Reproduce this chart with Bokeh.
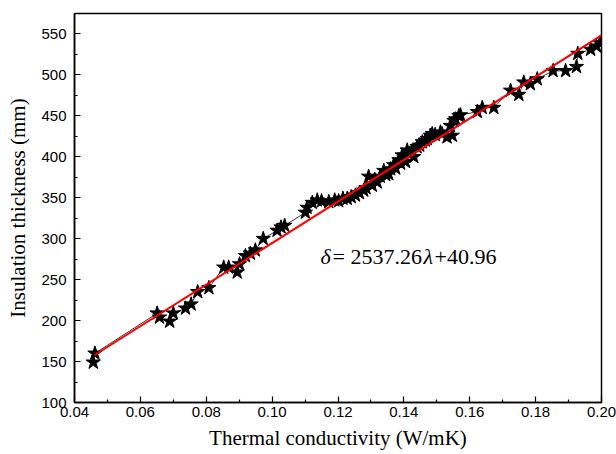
from bokeh.plotting import figure
from bokeh.models import Range1d, Label, FixedTicker, NumeralTickFormatter
from bokeh.embed import file_html
from bokeh.resources import INLINE

# ---- data ----
conductivity = [0.0457, 0.0462, 0.0651, 0.0658, 0.0689, 0.0700, 0.0737, 0.0754, 0.0774, 0.0808,
                0.0853, 0.0868, 0.0894, 0.0901, 0.0919, 0.0934, 0.0949, 0.0973, 0.1015, 0.1027,
                0.1038, 0.1101, 0.1106, 0.1122, 0.1137, 0.1150, 0.1172, 0.1190, 0.1202, 0.1215,
                0.1228, 0.1240, 0.1253, 0.1265, 0.1278, 0.1285, 0.1293, 0.1304, 0.1312, 0.1319,
                0.1328, 0.1339, 0.1345, 0.1354, 0.1360, 0.1369, 0.1375, 0.1385, 0.1390, 0.1395,
                0.1400, 0.1405, 0.1410, 0.1418, 0.1425, 0.1430, 0.1440, 0.1448, 0.1456, 0.1465,
                0.1471, 0.1480, 0.1486, 0.1495, 0.1511, 0.1516, 0.1531, 0.1541, 0.1547, 0.1552,
                0.1557, 0.1567, 0.1572, 0.1623, 0.1638, 0.1673, 0.1724, 0.1749, 0.1764, 0.1784,
                0.1805, 0.1853, 0.1891, 0.1924, 0.1928, 0.1967, 0.1985, 0.1995]
thickness = [149, 160, 209, 204, 199, 209, 215, 220, 235, 240,
             265, 265, 259, 269, 279, 282, 286, 300, 310, 314,
             316, 332, 338, 344, 347, 346, 345, 347, 346, 349,
             349, 351, 353, 356, 359, 362, 376, 365, 372, 369,
             376, 383, 378, 379, 385, 390, 386, 396, 392, 402,
             398, 394, 408, 404, 407, 400, 412, 414, 418, 420,
             422, 426, 428, 427, 430, 428, 424, 438, 426, 444,
             446, 450, 451, 455, 460, 460, 481, 476, 491, 489,
             495, 505, 505, 510, 526, 531, 535, 539]
fit_slope = 2537.26
fit_intercept = 40.96
fit_range = [0.046, 0.200]
x_ticks = [0.04, 0.06, 0.08, 0.10, 0.12, 0.14, 0.16, 0.18, 0.20]
x_minor = [0.05, 0.07, 0.09, 0.11, 0.13, 0.15, 0.17, 0.19]
y_ticks = [100, 150, 200, 250, 300, 350, 400, 450, 500, 550]
y_minor = [125, 175, 225, 275, 325, 375, 425, 475, 525, 575]

fit_y = [fit_slope * v + fit_intercept for v in fit_range]

p = figure(width=616, height=454, output_backend="svg", toolbar_location=None,
           x_range=Range1d(0.04, 0.20), y_range=Range1d(100, 575),
           min_border_left=74, min_border_right=15, min_border_top=13, min_border_bottom=52)
p.background_fill_color = "white"
p.border_fill_color = "white"
p.outline_line_color = "black"
p.outline_line_width = 1.5
p.xgrid.visible = False
p.ygrid.visible = False

p.xaxis.ticker = FixedTicker(ticks=x_ticks, minor_ticks=x_minor)
p.yaxis.ticker = FixedTicker(ticks=y_ticks, minor_ticks=y_minor)
p.xaxis.formatter = NumeralTickFormatter(format="0.00")
for ax in (p.xaxis, p.yaxis):
    ax.axis_line_width = 1.5
    ax.axis_line_color = "black"
    ax.major_tick_in = 6
    ax.major_tick_out = 0
    ax.minor_tick_in = 3
    ax.minor_tick_out = 0
    ax.major_tick_line_color = "black"
    ax.minor_tick_line_color = "black"
    ax.major_tick_line_width = 1.2
    ax.minor_tick_line_width = 1.2
    ax.major_label_text_font = "Liberation Sans"
    ax.major_label_text_font_size = "15px"
    ax.major_label_text_color = "black"
    ax.axis_label_text_font = "Liberation Serif"
    ax.axis_label_text_font_size = "21px"
    ax.axis_label_text_font_style = "normal"
    ax.axis_label_text_color = "black"
p.xaxis.axis_label = "Thermal conductivity (W/mK)"
p.yaxis.axis_label = "Insulation thickness (mm)"
p.xaxis.major_label_standoff = 4
p.yaxis.major_label_standoff = 8
p.xaxis.axis_label_standoff = 6
p.yaxis.axis_label_standoff = 8

p.line(conductivity, thickness, line_color="black", line_width=0.8)
p.scatter(conductivity, thickness, marker="star", size=15, fill_color="black", line_color="black")
p.line(fit_range, fit_y, line_color="red", line_width=2)

eq_x = 0.1147
eq_y = 278
parts = [("δ", "italic", 0), ("= 2537.26", "normal", 12), ("λ", "italic", 103), ("+40.96", "normal", 114)]
for txt, style, off in parts:
    p.add_layout(Label(x=eq_x, y=eq_y, x_offset=off, text=txt, text_font="Liberation Serif",
                       text_font_size="22px", text_font_style=style, text_baseline="alphabetic",
                       text_color="black"))

open("out.html", "w").write(file_html(p, INLINE))
